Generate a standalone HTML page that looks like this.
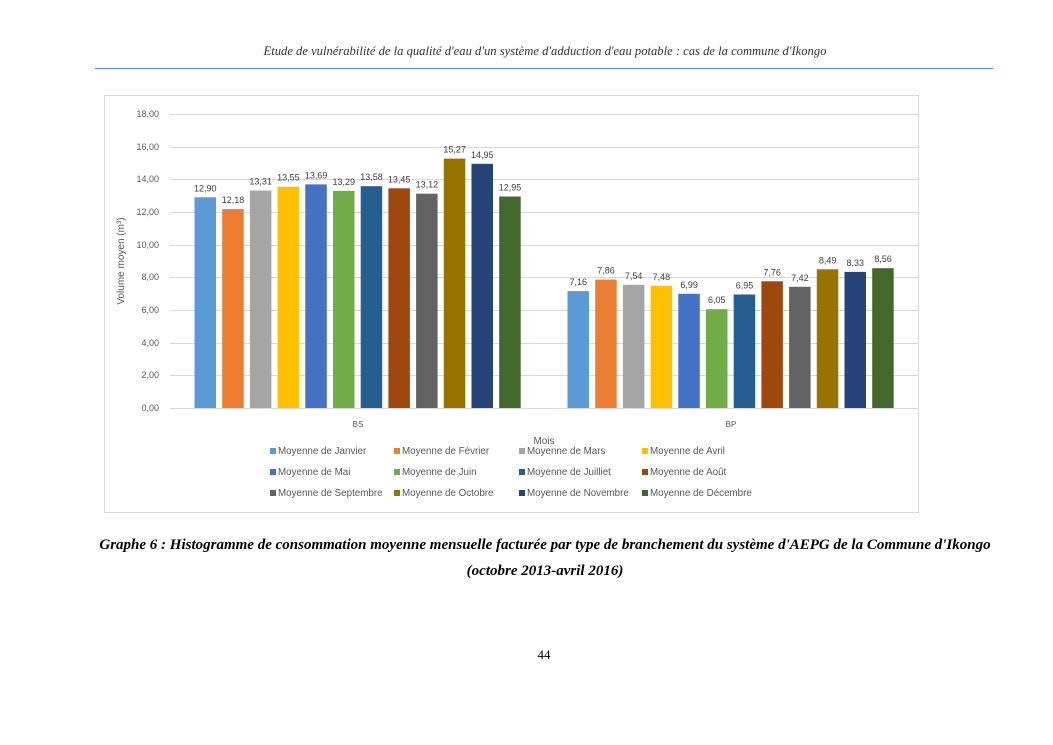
<!DOCTYPE html>
<html><head><meta charset="utf-8"><style>
body{margin:0;background:#fff;width:1053px;height:745px;overflow:hidden;position:relative;font-family:"Liberation Sans",sans-serif}
.hdr{position:absolute;top:44px;left:0;width:1090px;text-align:center;font:italic 12.6px "Liberation Serif",serif;color:#333}
.cap{position:absolute;left:0;width:1090px;text-align:center;font:bold italic 15px "Liberation Serif",serif;color:#000}
</style></head><body>
<div class="hdr">Etude de vulnérabilité de la qualité d'eau d'un système d'adduction d'eau potable : cas de la commune d'Ikongo</div>
<div style="position:absolute;left:95px;top:68px;width:898px;height:1px;background:#5b8fc9"></div>
<svg style="position:absolute;left:0;top:0" width="1053" height="745" font-family="Liberation Sans, sans-serif">
<rect x="104.5" y="95.5" width="814" height="417" fill="none" stroke="#d9d9d9"/>
<g stroke="#d9d9d9" stroke-width="1">
<line x1="170" x2="918" y1="114.5" y2="114.5"/><line x1="170" x2="918" y1="147.5" y2="147.5"/><line x1="170" x2="918" y1="179.5" y2="179.5"/><line x1="170" x2="918" y1="212.5" y2="212.5"/><line x1="170" x2="918" y1="245.5" y2="245.5"/><line x1="170" x2="918" y1="277.5" y2="277.5"/><line x1="170" x2="918" y1="310.5" y2="310.5"/><line x1="170" x2="918" y1="343.5" y2="343.5"/><line x1="170" x2="918" y1="375.5" y2="375.5"/><line x1="170" x2="918" y1="408.5" y2="408.5"/>
</g>
<g font-size="9" fill="#595959" text-anchor="end">
<text x="159" y="117">18,00</text><text x="159" y="150">16,00</text><text x="159" y="182">14,00</text><text x="159" y="215">12,00</text><text x="159" y="248">10,00</text><text x="159" y="280">8,00</text><text x="159" y="313">6,00</text><text x="159" y="346">4,00</text><text x="159" y="378">2,00</text><text x="159" y="411">0,00</text>
</g>
<text transform="translate(124,261) rotate(-90)" font-size="10" fill="#595959" text-anchor="middle">Volume moyen (m³)</text>
<text x="358" y="427" font-size="8" fill="#595959" text-anchor="middle">BS</text>
<text x="731" y="427" font-size="8" fill="#595959" text-anchor="middle">BP</text>
<text x="544" y="444" font-size="10" fill="#595959" text-anchor="middle">Mois</text>
<g id="bars"></g>
<g id="leg" font-size="9.8" fill="#595959"></g>
</svg>
<div class="cap" style="top:537px">Graphe 6 : Histogramme de consommation moyenne mensuelle facturée par type de branchement du système d'AEPG de la Commune d'Ikongo</div>
<div class="cap" style="top:563px">(octobre 2013-avril 2016)</div>
<div style="position:absolute;top:647px;left:0;width:1088px;text-align:center;font:13px 'Liberation Serif',serif">44</div>
<script>
var cols=["#5b9bd5","#ed7d31","#a5a5a5","#ffc000","#4472c4","#70ad47","#255e91","#9e480e","#636363","#997300","#264478","#43682b"];
var bs=[12.90,12.18,13.31,13.55,13.69,13.29,13.58,13.45,13.12,15.27,14.95,12.95];
var bp=[7.16,7.86,7.54,7.48,6.99,6.05,6.95,7.76,7.42,8.49,8.33,8.56];
var names=["Janvier","Février","Mars","Avril","Mai","Juin","Juilliet","Août","Septembre","Octobre","Novembre","Décembre"];
var g=document.getElementById("bars"),s="";
function grp(x0,d){for(var i=0;i<12;i++){var x=x0+i*27.7,h=d[i]*294/18,y=408-h;
s+='<rect x="'+x.toFixed(1)+'" y="'+y.toFixed(1)+'" width="21.5" height="'+h.toFixed(1)+'" fill="'+cols[i]+'"/>';
s+='<text x="'+(x+10.8).toFixed(1)+'" y="'+(y-6).toFixed(1)+'" font-size="9" fill="#404040" text-anchor="middle">'+d[i].toFixed(2).replace(".",",")+'</text>';}}
grp(194.5,bs);grp(567.5,bp);g.innerHTML=s;
var l="",cx=[270,394,519,642];
for(var i=0;i<12;i++){var c=i%4,r=Math.floor(i/4),x=cx[c],y=453+r*21;
l+='<rect x="'+x+'" y="'+(y-5)+'" width="6" height="6" fill="'+cols[i]+'"/><text x="'+(x+8)+'" y="'+(y+1)+'">Moyenne de '+names[i]+'</text>';}
document.getElementById("leg").innerHTML=l;
</script>
</body></html>
